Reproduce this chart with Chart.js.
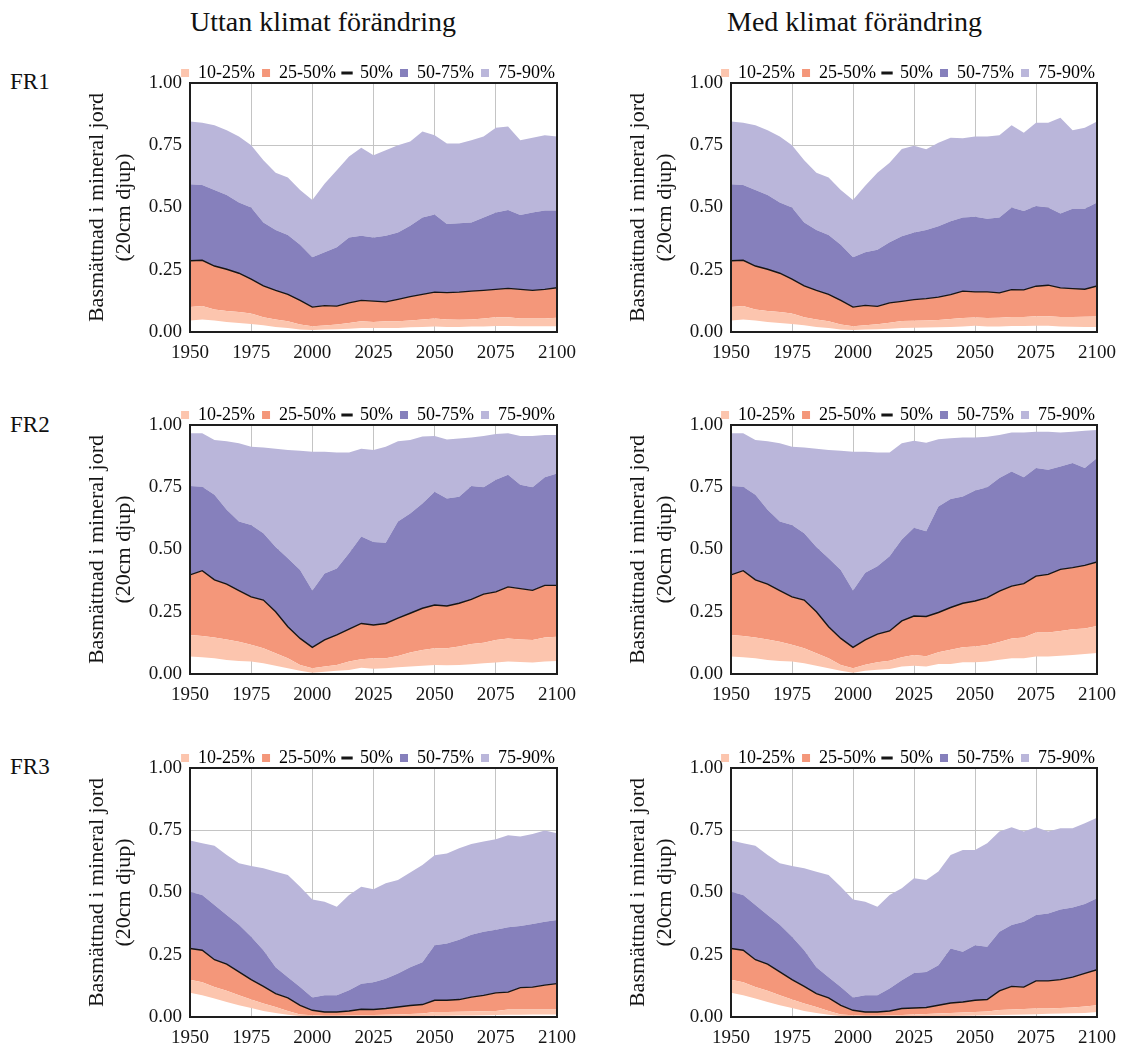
<!DOCTYPE html>
<html>
<head>
<meta charset="utf-8">
<script src="https://cdn.jsdelivr.net/npm/chart.js@4.4.0/dist/chart.umd.min.js"></script>
<style>
body{margin:0;background:#fff;width:1127px;height:1050px;position:relative;font-family:"Liberation Serif",serif;color:#111}
.t{position:absolute;font-size:28px;line-height:28px;white-space:nowrap}
.fr{position:absolute;left:10px;font-size:23px;line-height:23px}
canvas{position:absolute}
</style>
</head>
<body>
<div class="t" style="left:190px;top:8px">Uttan klimat förändring</div>
<div class="t" style="left:727px;top:8px">Med klimat förändring</div>
<div class="fr" style="top:70px">FR1</div>
<div class="fr" style="top:413px">FR2</div>
<div class="fr" style="top:755px">FR3</div>
<canvas id="fr1Utan" width="503" height="319" style="left:83px;top:53px"></canvas>
<canvas id="fr1Med" width="502" height="319" style="left:624px;top:53px"></canvas>
<canvas id="fr2Utan" width="503" height="319" style="left:83px;top:395px"></canvas>
<canvas id="fr2Med" width="502" height="319" style="left:624px;top:395px"></canvas>
<canvas id="fr3Utan" width="503" height="319" style="left:83px;top:738px"></canvas>
<canvas id="fr3Med" width="502" height="319" style="left:624px;top:738px"></canvas>
<script>
// years every 5th, 1950-2100
var years = [1950,1955,1960,1965,1970,1975,1980,1985,1990,1995,2000,2005,2010,2015,2020,2025,2030,2035,2040,2045,2050,2055,2060,2065,2070,2075,2080,2085,2090,2095,2100];
var xTicks = [1950,1975,2000,2025,2050,2075,2100];
var yTicks = [0,0.25,0.5,0.75,1];
var legendNames = ['10-25%','25-50%','50%','50-75%','75-90%'];

// FR1 utan klimatförändring
var fr1UtanP10 = [0.046,0.05,0.046,0.04,0.036,0.032,0.027,0.02,0.016,0.01,0.008,0.01,0.011,0.013,0.016,0.016,0.016,0.016,0.019,0.02,0.022,0.02,0.02,0.022,0.022,0.024,0.024,0.023,0.023,0.023,0.023];
var fr1UtanP25 = [0.10,0.104,0.09,0.084,0.08,0.074,0.059,0.05,0.043,0.03,0.023,0.026,0.03,0.036,0.043,0.04,0.043,0.043,0.046,0.05,0.054,0.05,0.049,0.05,0.054,0.059,0.059,0.054,0.054,0.054,0.057];
var fr1UtanP50 = [0.286,0.288,0.265,0.252,0.236,0.212,0.185,0.167,0.151,0.127,0.10,0.106,0.104,0.117,0.127,0.124,0.121,0.131,0.142,0.151,0.16,0.158,0.16,0.164,0.167,0.171,0.175,0.171,0.167,0.171,0.178];
var fr1UtanP75 = [0.593,0.59,0.57,0.55,0.52,0.50,0.44,0.41,0.39,0.35,0.30,0.32,0.34,0.38,0.387,0.38,0.387,0.40,0.427,0.46,0.472,0.434,0.437,0.44,0.46,0.48,0.49,0.47,0.48,0.488,0.488];
var fr1UtanP90 = [0.845,0.84,0.83,0.81,0.785,0.75,0.69,0.64,0.62,0.57,0.53,0.595,0.65,0.705,0.74,0.71,0.73,0.75,0.765,0.805,0.79,0.757,0.757,0.77,0.785,0.82,0.825,0.77,0.78,0.79,0.785];

// FR1 med klimatförändring
var fr1MedP10 = [0.046,0.05,0.046,0.04,0.036,0.032,0.027,0.02,0.016,0.01,0.008,0.01,0.011,0.013,0.016,0.017,0.018,0.019,0.02,0.022,0.025,0.022,0.022,0.024,0.024,0.025,0.025,0.022,0.021,0.02,0.02];
var fr1MedP25 = [0.10,0.104,0.09,0.084,0.08,0.074,0.059,0.05,0.043,0.03,0.023,0.027,0.031,0.037,0.044,0.045,0.046,0.048,0.052,0.056,0.058,0.056,0.057,0.06,0.06,0.063,0.063,0.06,0.06,0.061,0.062];
var fr1MedP50 = [0.286,0.288,0.265,0.252,0.236,0.212,0.185,0.167,0.151,0.127,0.10,0.107,0.103,0.117,0.123,0.13,0.134,0.14,0.15,0.164,0.161,0.161,0.157,0.17,0.169,0.184,0.188,0.177,0.174,0.172,0.185];
var fr1MedP75 = [0.593,0.59,0.57,0.55,0.52,0.50,0.44,0.41,0.39,0.35,0.30,0.32,0.33,0.36,0.385,0.40,0.41,0.425,0.445,0.46,0.463,0.455,0.46,0.50,0.486,0.506,0.50,0.476,0.495,0.495,0.52];
var fr1MedP90 = [0.845,0.84,0.83,0.81,0.785,0.75,0.69,0.64,0.62,0.57,0.53,0.587,0.64,0.68,0.735,0.748,0.734,0.76,0.78,0.778,0.785,0.785,0.79,0.83,0.80,0.84,0.84,0.86,0.81,0.82,0.845];

// FR2 utan klimatförändring
var fr2UtanP10 = [0.07,0.067,0.063,0.056,0.052,0.05,0.043,0.033,0.023,0.013,0.005,0.009,0.013,0.016,0.025,0.021,0.023,0.027,0.03,0.033,0.036,0.035,0.036,0.039,0.043,0.046,0.05,0.048,0.046,0.05,0.052];
var fr2UtanP25 = [0.157,0.153,0.147,0.139,0.13,0.117,0.103,0.083,0.063,0.036,0.023,0.03,0.036,0.05,0.059,0.063,0.063,0.072,0.086,0.096,0.103,0.103,0.11,0.12,0.126,0.137,0.143,0.139,0.137,0.147,0.15];
var fr2UtanP50 = [0.398,0.415,0.378,0.361,0.335,0.31,0.297,0.25,0.19,0.143,0.107,0.137,0.157,0.18,0.203,0.197,0.203,0.224,0.244,0.264,0.277,0.273,0.284,0.30,0.321,0.33,0.35,0.343,0.336,0.356,0.356];
var fr2UtanP75 = [0.755,0.752,0.72,0.66,0.612,0.598,0.565,0.51,0.465,0.418,0.335,0.404,0.424,0.485,0.552,0.53,0.527,0.612,0.645,0.685,0.732,0.705,0.712,0.755,0.75,0.78,0.80,0.76,0.75,0.79,0.805];
var fr2UtanP90 = [0.967,0.967,0.94,0.935,0.927,0.913,0.91,0.905,0.90,0.897,0.893,0.893,0.89,0.89,0.905,0.90,0.913,0.935,0.94,0.954,0.956,0.942,0.946,0.95,0.956,0.964,0.967,0.956,0.956,0.96,0.96];

// FR2 med klimatförändring
var fr2MedP10 = [0.07,0.067,0.063,0.056,0.052,0.05,0.043,0.033,0.023,0.013,0.005,0.013,0.017,0.02,0.03,0.033,0.03,0.04,0.04,0.047,0.047,0.05,0.057,0.063,0.063,0.07,0.07,0.073,0.076,0.08,0.084];
var fr2MedP25 = [0.157,0.153,0.147,0.139,0.13,0.117,0.103,0.083,0.063,0.036,0.023,0.037,0.047,0.053,0.067,0.076,0.071,0.087,0.097,0.107,0.11,0.116,0.129,0.143,0.147,0.167,0.167,0.173,0.18,0.183,0.193];
var fr2MedP50 = [0.398,0.415,0.378,0.361,0.335,0.31,0.297,0.25,0.19,0.143,0.107,0.137,0.16,0.173,0.213,0.233,0.231,0.247,0.267,0.284,0.293,0.307,0.333,0.353,0.363,0.393,0.40,0.42,0.427,0.436,0.45];
var fr2MedP75 = [0.755,0.752,0.72,0.66,0.612,0.598,0.565,0.51,0.465,0.418,0.335,0.407,0.433,0.473,0.54,0.587,0.573,0.673,0.703,0.713,0.737,0.75,0.787,0.813,0.79,0.827,0.82,0.833,0.847,0.827,0.867];
var fr2MedP90 = [0.967,0.967,0.94,0.935,0.927,0.913,0.91,0.905,0.90,0.897,0.893,0.893,0.89,0.89,0.927,0.937,0.929,0.943,0.947,0.95,0.95,0.953,0.96,0.97,0.97,0.973,0.973,0.97,0.973,0.977,0.98];

// FR3 utan klimatförändring
var fr3UtanP10 = [0.097,0.087,0.074,0.06,0.047,0.036,0.024,0.016,0.009,0.004,0.001,0.001,0.001,0.002,0.002,0.002,0.002,0.002,0.003,0.004,0.005,0.005,0.006,0.006,0.007,0.008,0.009,0.009,0.01,0.01,0.01];
var fr3UtanP25 = [0.15,0.14,0.12,0.105,0.087,0.07,0.054,0.04,0.024,0.01,0.007,0.005,0.005,0.006,0.007,0.008,0.009,0.01,0.012,0.014,0.02,0.02,0.021,0.022,0.023,0.024,0.03,0.03,0.03,0.03,0.03];
var fr3UtanP50 = [0.275,0.268,0.23,0.212,0.181,0.15,0.123,0.094,0.077,0.047,0.027,0.02,0.02,0.024,0.031,0.03,0.034,0.04,0.046,0.05,0.067,0.067,0.07,0.08,0.087,0.097,0.10,0.118,0.12,0.128,0.134];
var fr3UtanP75 = [0.503,0.49,0.45,0.41,0.37,0.322,0.268,0.20,0.16,0.12,0.078,0.087,0.087,0.107,0.134,0.14,0.154,0.175,0.20,0.22,0.288,0.295,0.31,0.33,0.342,0.35,0.36,0.365,0.373,0.383,0.39];
var fr3UtanP90 = [0.709,0.698,0.688,0.651,0.617,0.606,0.597,0.583,0.57,0.523,0.472,0.463,0.443,0.49,0.523,0.513,0.537,0.55,0.58,0.61,0.65,0.657,0.678,0.695,0.705,0.714,0.73,0.725,0.735,0.749,0.738];

// FR3 med klimatförändring
var fr3MedP10 = [0.097,0.087,0.074,0.06,0.047,0.036,0.024,0.016,0.009,0.004,0.001,0.001,0.001,0.002,0.002,0.002,0.003,0.003,0.004,0.005,0.006,0.007,0.008,0.009,0.01,0.011,0.013,0.014,0.015,0.016,0.02];
var fr3MedP25 = [0.15,0.14,0.12,0.105,0.087,0.07,0.054,0.04,0.024,0.01,0.007,0.005,0.005,0.006,0.008,0.01,0.012,0.014,0.016,0.018,0.02,0.022,0.028,0.03,0.032,0.034,0.034,0.036,0.038,0.042,0.047];
var fr3MedP50 = [0.275,0.268,0.23,0.212,0.181,0.15,0.123,0.094,0.077,0.047,0.027,0.02,0.02,0.024,0.034,0.036,0.038,0.047,0.056,0.06,0.067,0.07,0.105,0.123,0.12,0.145,0.145,0.15,0.16,0.175,0.19];
var fr3MedP75 = [0.503,0.49,0.45,0.41,0.37,0.322,0.268,0.20,0.16,0.12,0.078,0.087,0.087,0.114,0.148,0.177,0.181,0.208,0.275,0.262,0.288,0.282,0.342,0.369,0.383,0.41,0.416,0.432,0.44,0.454,0.477];
var fr3MedP90 = [0.709,0.698,0.688,0.651,0.617,0.606,0.597,0.583,0.57,0.523,0.472,0.463,0.443,0.49,0.517,0.557,0.55,0.584,0.651,0.671,0.671,0.698,0.745,0.762,0.745,0.762,0.745,0.758,0.758,0.778,0.80];

var c1025 = '#fcc5ae', c2550 = '#f4977a', c5075 = '#8680bc', c7590 = '#bab6da', cMed = '#151515';
var legendColors = [c1025, c2550, cMed, c5075, c7590];
var serif = "'Liberation Serif', 'DejaVu Serif', serif";

Chart.defaults.font.family = serif;
Chart.defaults.color = '#151515';

// draw the box round the plot area
var framePlugin = {
  id: 'frame',
  afterDraw: function (chart) {
    var a = chart.chartArea, ctx = chart.ctx;
    ctx.save();
    ctx.strokeStyle = '#1e1e1e';
    ctx.lineWidth = 2;
    ctx.strokeRect(a.left, a.top, a.right - a.left, a.bottom - a.top);
    ctx.restore();
  }
};

function pts(arr) {
  return years.map(function (y, i) { return {x: y, y: arr[i]}; });
}

function band(arr, color, fill) {
  return {data: pts(arr), backgroundColor: color, borderWidth: 0, pointRadius: 0, fill: fill, tension: 0};
}

function makeChart(id, p10, p25, p50, p75, p90) {
  var ctx = document.getElementById(id).getContext('2d');
  var med = band(p50, c2550, '-1');
  med.borderColor = cMed;
  med.borderWidth = 1.4;
  return new Chart(ctx, {
    type: 'line',
    data: {
      datasets: [
        band(p10, 'rgba(0,0,0,0)', false),
        band(p25, c1025, '-1'),
        med,
        band(p75, c5075, '-1'),
        band(p90, c7590, '-1')
      ]
    },
    plugins: [framePlugin],
    options: {
      responsive: false,
      animation: false,
      layout: {padding: {left: 0, right: 24, top: 4, bottom: 0}},
      plugins: {
        tooltip: {enabled: false},
        legend: {
          position: 'top',
          align: 'end',
          maxHeight: 26,
          onClick: null,
          labels: {
            font: {size: 18, family: serif},
            color: '#151515',
            usePointStyle: true,
            boxWidth: 8,
            boxHeight: 8,
            padding: 7,
            generateLabels: function () {
              return legendNames.map(function (name, i) {
                var isLine = i === 2;
                return {
                  text: name,
                  fillStyle: legendColors[i],
                  strokeStyle: legendColors[i],
                  lineWidth: isLine ? 3 : 0,
                  pointStyle: isLine ? 'line' : 'rect',
                  hidden: false,
                  datasetIndex: i
                };
              });
            }
          }
        }
      },
      scales: {
        x: {
          type: 'linear',
          min: 1950,
          max: 2100,
          z: 1,
          afterBuildTicks: function (s) { s.ticks = xTicks.map(function (v) { return {value: v}; }); },
          afterFit: function (s) { s.height = 40; },
          grid: {color: '#c4c4c4', lineWidth: 1, drawTicks: false},
          border: {display: false},
          ticks: {
            font: {size: 19},
            padding: 10,
            maxRotation: 0,
            autoSkip: false,
            callback: function (v) { return String(v); }
          }
        },
        y: {
          min: 0,
          max: 1,
          z: 1,
          afterBuildTicks: function (s) { s.ticks = yTicks.map(function (v) { return {value: v}; }); },
          afterFit: function (s) { s.width = 107; },
          grid: {color: '#c4c4c4', lineWidth: 1, drawTicks: false},
          border: {display: false},
          ticks: {
            font: {size: 19},
            padding: 8,
            callback: function (v) { return v.toFixed(2); }
          },
          title: {
            display: true,
            text: ['Basmättnad i mineral jord', '(20cm djup)'],
            font: {size: 22, lineHeight: 1.25},
            padding: 0,
            color: '#151515'
          }
        }
      }
    }
  });
}

makeChart('fr1Utan', fr1UtanP10, fr1UtanP25, fr1UtanP50, fr1UtanP75, fr1UtanP90);
makeChart('fr1Med', fr1MedP10, fr1MedP25, fr1MedP50, fr1MedP75, fr1MedP90);
makeChart('fr2Utan', fr2UtanP10, fr2UtanP25, fr2UtanP50, fr2UtanP75, fr2UtanP90);
makeChart('fr2Med', fr2MedP10, fr2MedP25, fr2MedP50, fr2MedP75, fr2MedP90);
makeChart('fr3Utan', fr3UtanP10, fr3UtanP25, fr3UtanP50, fr3UtanP75, fr3UtanP90);
makeChart('fr3Med', fr3MedP10, fr3MedP25, fr3MedP50, fr3MedP75, fr3MedP90);
</script>
</body>
</html>
